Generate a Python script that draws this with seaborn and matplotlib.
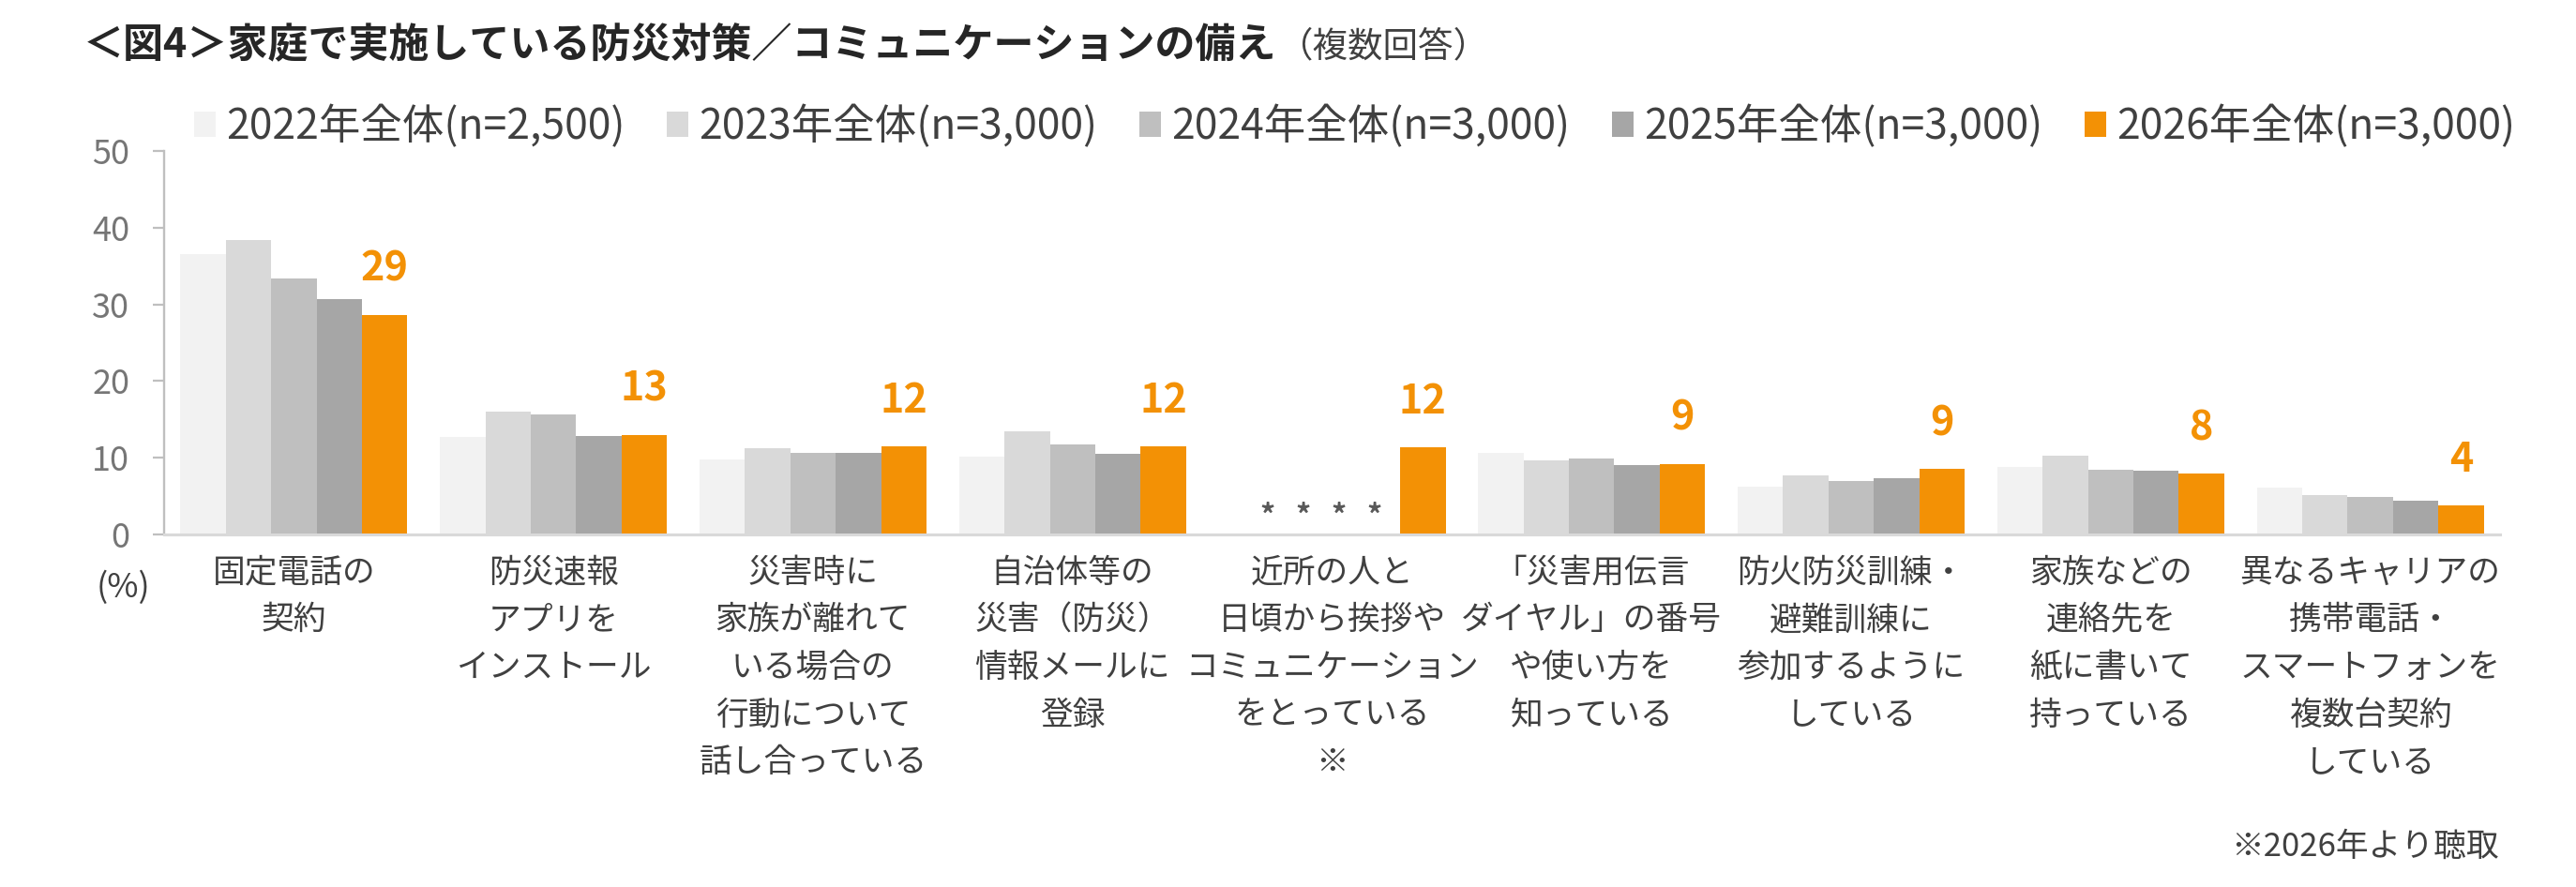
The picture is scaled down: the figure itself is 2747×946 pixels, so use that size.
import numpy as np
import pandas as pd
import matplotlib
matplotlib.use("Agg")
import matplotlib.pyplot as plt
from matplotlib.patches import Patch
import seaborn as sns

# ---------------- data ----------------
categories = [
    "固定電話の\n契約",
    "防災速報\nアプリを\nインストール",
    "災害時に\n家族が離れて\nいる場合の\n行動について\n話し合っている",
    "自治体等の\n災害（防災）\n情報メールに\n登録",
    "近所の人と\n日頃から挨拶や\nコミュニケーション\nをとっている\n※",
    "「災害用伝言\nダイヤル」の番号\nや使い方を\n知っている",
    "防火防災訓練・\n避難訓練に\n参加するように\nしている",
    "家族などの\n連絡先を\n紙に書いて\n持っている",
    "異なるキャリアの\n携帯電話・\nスマートフォンを\n複数台契約\nしている",
]
series_names = [
    "2022年全体(n=2,500)",
    "2023年全体(n=3,000)",
    "2024年全体(n=3,000)",
    "2025年全体(n=3,000)",
    "2026年全体(n=3,000)",
]
v2022 = [36.6, 12.7, 9.8, 10.1, np.nan, 10.6, 6.2, 8.8, 6.1]
v2023 = [38.4, 16.0, 11.3, 13.4, np.nan, 9.7, 7.7, 10.3, 5.1]
v2024 = [33.4, 15.6, 10.6, 11.7, np.nan, 9.9, 7.0, 8.4, 4.9]
v2025 = [30.7, 12.8, 10.6, 10.5, np.nan, 9.1, 7.3, 8.3, 4.4]
v2026 = [28.6, 13.0, 11.5, 11.5, 11.4, 9.2, 8.5, 7.9, 3.8]
labels_2026 = ["29", "13", "12", "12", "12", "9", "9", "8", "4"]
yticks = [0, 10, 20, 30, 40, 50]
missing_mark = "*   *   *   *"

title_text = "＜図4＞家庭で実施している防災対策／コミュニケーションの備え"
subtitle_text = "（複数回答）"
unit_text = "(%)"
note_text = "※2026年より聴取"

# ---------------- styling ----------------
colors = ["#F2F2F2", "#D9D9D9", "#BFBFBF", "#A6A6A6", "#F39105"]
text_dark = "#404040"
tick_gray = "#767676"

sns.set_style("white")
plt.rcParams["font.family"] = ["Noto Sans CJK JP", "DejaVu Sans"]

rows = []
for name, vals in zip(series_names, [v2022, v2023, v2024, v2025, v2026]):
    for cat, v in zip(categories, vals):
        rows.append({"category": cat, "series": name, "value": v})
df = pd.DataFrame(rows)

fig = plt.figure(figsize=(27.47, 9.46), dpi=100)
ax = fig.add_axes([175 / 2747, 1 - 570 / 946, (2666 - 175) / 2747, (570 - 161) / 946])

sns.barplot(
    data=df, x="category", y="value", hue="series",
    order=categories, hue_order=series_names,
    palette=colors, width=0.875, gap=0, saturation=1,
    errorbar=None, legend=False, ax=ax, linewidth=0,
)

ax.set_xlim(-0.5, len(categories) - 0.5)
ax.set_ylim(0, 50)
ax.set_xlabel("")
ax.set_ylabel("")
ax.set_yticks(yticks)
ax.set_yticklabels([str(t) for t in yticks])
ax.tick_params(axis="y", length=8.6, width=1.6, color="#BFBFBF",
               labelsize=26, labelcolor=tick_gray, pad=18, left=True)
ax.set_xticks(range(len(categories)))
ax.set_xticklabels(categories, fontsize=25, color=text_dark, linespacing=1.58)
ax.tick_params(axis="x", length=0, pad=17)

for s in ["top", "right"]:
    ax.spines[s].set_visible(False)
ax.spines["left"].set_color("#BFBFBF")
ax.spines["left"].set_linewidth(1.7)
ax.spines["bottom"].set_color("#D9D9D9")
ax.spines["bottom"].set_linewidth(2.2)
ax.grid(False)

# value labels on the 2026 bars
cont = [c for c in ax.containers if c.get_label() == series_names[-1]]
cont = cont[0] if cont else ax.containers[-1]
for patch, lab in zip(cont.patches, labels_2026):
    ax.annotate(lab, (patch.get_x() + patch.get_width() / 2, patch.get_height()),
                xytext=(0, 26), textcoords="offset points",
                ha="center", va="baseline", fontsize=31, fontweight="bold",
                color=colors[-1])

# "not asked" marks for the new item
new_idx = int(np.where(np.isnan(v2022))[0][0])
ax.annotate(missing_mark, (new_idx - 0.04, 0), xytext=(0, 7),
            textcoords="offset points", ha="center", va="baseline",
            fontsize=23, fontweight="bold", color="#595959")

# legend
handles = [Patch(facecolor=c, edgecolor="none") for c in colors]
fig.legend(handles, series_names, loc="center left",
           bbox_to_anchor=(207 / 2747, 1 - 135 / 946), ncol=5,
           frameon=False, fontsize=32, handlelength=0.52, handleheight=0.55,
           handletextpad=0.25, columnspacing=1.0, borderpad=0,
           borderaxespad=0, labelcolor=text_dark)

# title texts
title = fig.text(89 / 2747, 1 - 48 / 946, title_text, fontsize=31,
                 fontweight="bold", color="#262626", ha="left", va="center")
fig.canvas.draw()
bb = title.get_window_extent()
fig.text((bb.x1 + 2) / 2747, 1 - 50 / 946, subtitle_text, fontsize=27,
         color=text_dark, ha="left", va="center")

fig.text(131 / 2747, 1 - 627 / 946, unit_text, fontsize=26, color=text_dark,
         ha="center", va="center")
fig.text(2665 / 2747, 1 - 903 / 946, note_text, fontsize=25, color=text_dark,
         ha="right", va="center")

fig.savefig("out.png", dpi=100)
